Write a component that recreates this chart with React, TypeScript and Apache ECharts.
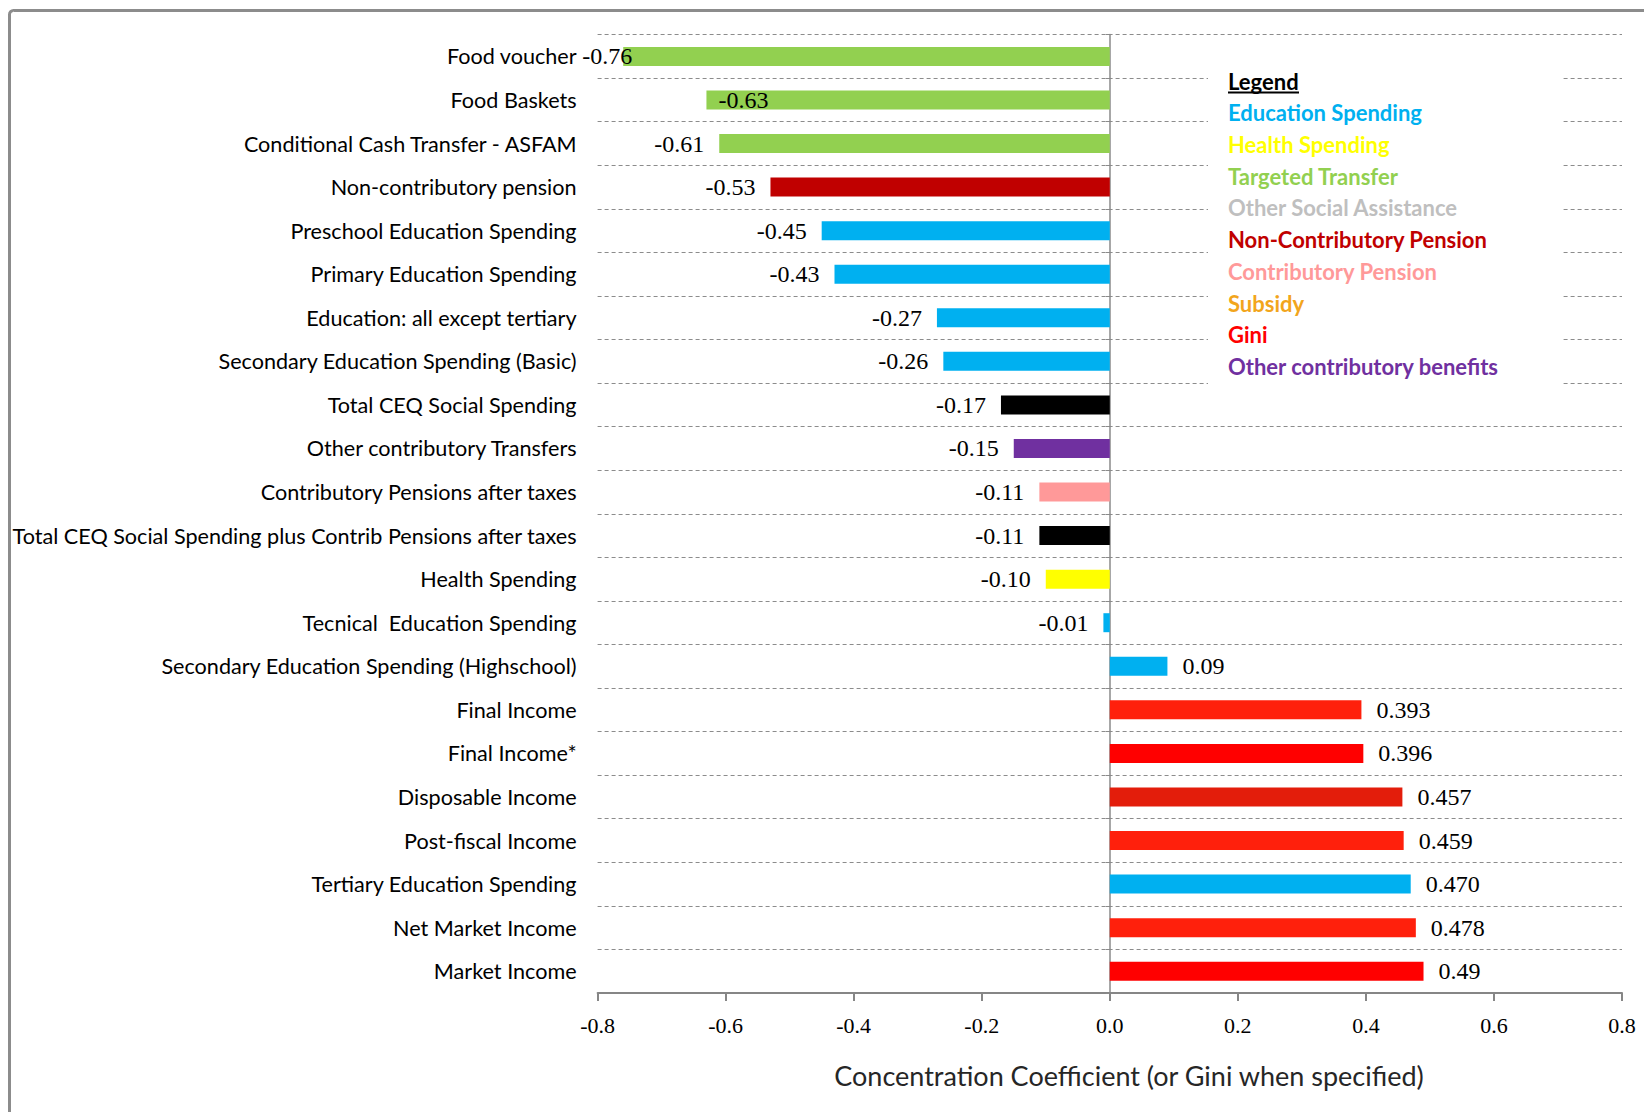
import React, { useEffect, useRef } from "react";
import * as echarts from "echarts";

const categories = [
  "Food voucher",
  "Food Baskets",
  "Conditional Cash Transfer - ASFAM",
  "Non-contributory pension",
  "Preschool Education Spending",
  "Primary Education Spending",
  "Education: all except tertiary",
  "Secondary Education Spending (Basic)",
  "Total CEQ Social Spending",
  "Other contributory Transfers",
  "Contributory Pensions after taxes",
  "Total CEQ Social Spending plus Contrib Pensions after taxes",
  "Health Spending",
  "Tecnical  Education Spending",
  "Secondary Education Spending (Highschool)",
  "Final Income",
  "Final Income*",
  "Disposable Income",
  "Post-fiscal Income",
  "Tertiary Education Spending",
  "Net Market Income",
  "Market Income",
];

const values = [
  -0.76, -0.63, -0.61, -0.53, -0.45, -0.43, -0.27, -0.26, -0.17, -0.15, -0.11,
  -0.11, -0.1, -0.01, 0.09, 0.393, 0.396, 0.457, 0.459, 0.47, 0.478, 0.49,
];

const valueLabels = [
  "-0.76", "-0.63", "-0.61", "-0.53", "-0.45", "-0.43", "-0.27", "-0.26",
  "-0.17", "-0.15", "-0.11", "-0.11", "-0.10", "-0.01", "0.09", "0.393",
  "0.396", "0.457", "0.459", "0.470", "0.478", "0.49",
];

const barColors = [
  "#92D050", "#92D050", "#92D050", "#C00000", "#00B0F0", "#00B0F0",
  "#00B0F0", "#00B0F0", "#000000", "#7030A0", "#FF9999", "#000000",
  "#FFFF00", "#00B0F0", "#00B0F0", "#FF200C", "#FF0000", "#E31D0B",
  "#FF200C", "#00B0F0", "#FF200C", "#FF0000",
];

const xTickLabels = ["-0.8", "-0.6", "-0.4", "-0.2", "0.0", "0.2", "0.4", "0.6", "0.8"];

const legendTitle = "Legend";
const legendItems = [
  "Education Spending",
  "Health Spending",
  "Targeted Transfer",
  "Other Social Assistance",
  "Non-Contributory Pension",
  "Contributory Pension",
  "Subsidy",
  "Gini",
  "Other contributory benefits",
];
const legendColors = [
  "#00B0F0", "#FFFF00", "#92D050", "#BFBFBF", "#C00000", "#FF9999",
  "#F2A51C", "#FF0000", "#7030A0",
];

const axisTitle = "Concentration Coefficient (or Gini when specified)";

export default function App() {
  const ref = useRef<HTMLDivElement>(null);

  useEffect(() => {
    if (!ref.current) return;
    const chart = echarts.init(ref.current, undefined, { renderer: "svg" });

    const labelOverrides: Record<number, any> = {
      0: { position: "left", distance: -9 },
      1: { position: "insideLeft", distance: 12 },
    };

    const seriesData = values.map((v, i) => {
      const item: any = {
        value: v,
        itemStyle: { color: barColors[i] },
        label: {
          position: v < 0 ? "left" : "right",
          distance: 15,
        },
      };
      if (labelOverrides[i]) item.label = { ...item.label, ...labelOverrides[i] };
      return item;
    });

    const gridColor = "#8c8c8c";
    const legendX = 1228;
    const legendGraphics: any[] = [
      {
        type: "rect",
        shape: { x: 1208, y: 62, width: 354, height: 334 },
        style: { fill: "#ffffff" },
        z: 5,
      },
      {
        type: "text",
        x: legendX,
        y: 81,
        z: 10,
        style: {
          text: legendTitle,
          fill: "#000000",
          font: "bold 22px Lato",
          verticalAlign: "middle",
          align: "left",
        },
      },
      {
        type: "line",
        shape: { x1: legendX, y1: 92.5, x2: legendX + 71, y2: 92.5 },
        style: { stroke: "#000000", lineWidth: 2 },
        z: 10,
      },
      ...legendItems.map((t, i) => ({
        type: "text",
        x: legendX,
        y: 112.7 + i * 31.75,
        z: 10,
        style: {
          text: t,
          fill: legendColors[i],
          font: "bold 22px Lato",
          verticalAlign: "middle",
          align: "left",
        },
      })),
      {
        type: "text",
        x: 1129,
        y: 1075,
        z: 10,
        style: {
          text: axisTitle,
          fill: "#262626",
          font: "27px Lato",
          verticalAlign: "middle",
          align: "center",
        },
      },
      {
        type: "rect",
        shape: { x: 9.5, y: 10.5, width: 1700, height: 1200, r: 4 },
        style: { fill: "none", stroke: "#8c8c8c", lineWidth: 3 },
        z: 20,
      },
    ];

    chart.setOption({
      animation: false,
      backgroundColor: "#ffffff",
      grid: { left: 597.6, right: 22, top: 34.6, bottom: 119, containLabel: false },
      xAxis: {
        type: "value",
        min: -0.8,
        max: 0.8,
        interval: 0.2,
        axisLine: { show: true, onZero: false, lineStyle: { color: "#868686", width: 2 } },
        axisTick: { show: true, length: 8, lineStyle: { color: "#868686", width: 2 } },
        splitLine: { show: false },
        axisLabel: {
          margin: 21,
          fontFamily: "Liberation Serif",
          fontSize: 22,
          color: "#000000",
          formatter: (v: number) => xTickLabels[Math.round((v + 0.8) / 0.2)],
        },
      },
      yAxis: [
        {
          type: "category",
          data: categories,
          inverse: true,
          axisLine: { show: false, onZero: false },
          axisTick: { show: false },
          axisLabel: {
            margin: 21,
            fontFamily: "Lato",
            fontSize: 21.6,
            color: "#000000",
          },
          splitLine: {
            show: true,
            lineStyle: { type: [4, 3], color: gridColor, width: 1 },
          },
        },
        {
          type: "category",
          data: categories,
          inverse: true,
          position: "left",
          axisLine: {
            show: true,
            onZero: true,
            onZeroAxisIndex: 0,
            lineStyle: { color: "#8a8a8a", width: 1.5 },
          },
          axisTick: { show: true, length: 4, lineStyle: { color: "#8a8a8a" } },
          axisLabel: { show: false },
          splitLine: { show: false },
        },
      ],
      series: [
        {
          type: "bar",
          yAxisIndex: 0,
          data: seriesData,
          barWidth: 19,
          z: 3,
          label: {
            show: true,
            fontFamily: "Liberation Serif",
            fontSize: 24,
            color: "#000000",
            formatter: (p: any) => valueLabels[p.dataIndex],
          },
        },
      ],
      graphic: legendGraphics,
    });

    return () => chart.dispose();
  }, []);

  return (
    <div
      ref={ref}
      style={{ position: "absolute", left: 0, top: 0, width: 1644, height: 1112 }}
    />
  );
}
